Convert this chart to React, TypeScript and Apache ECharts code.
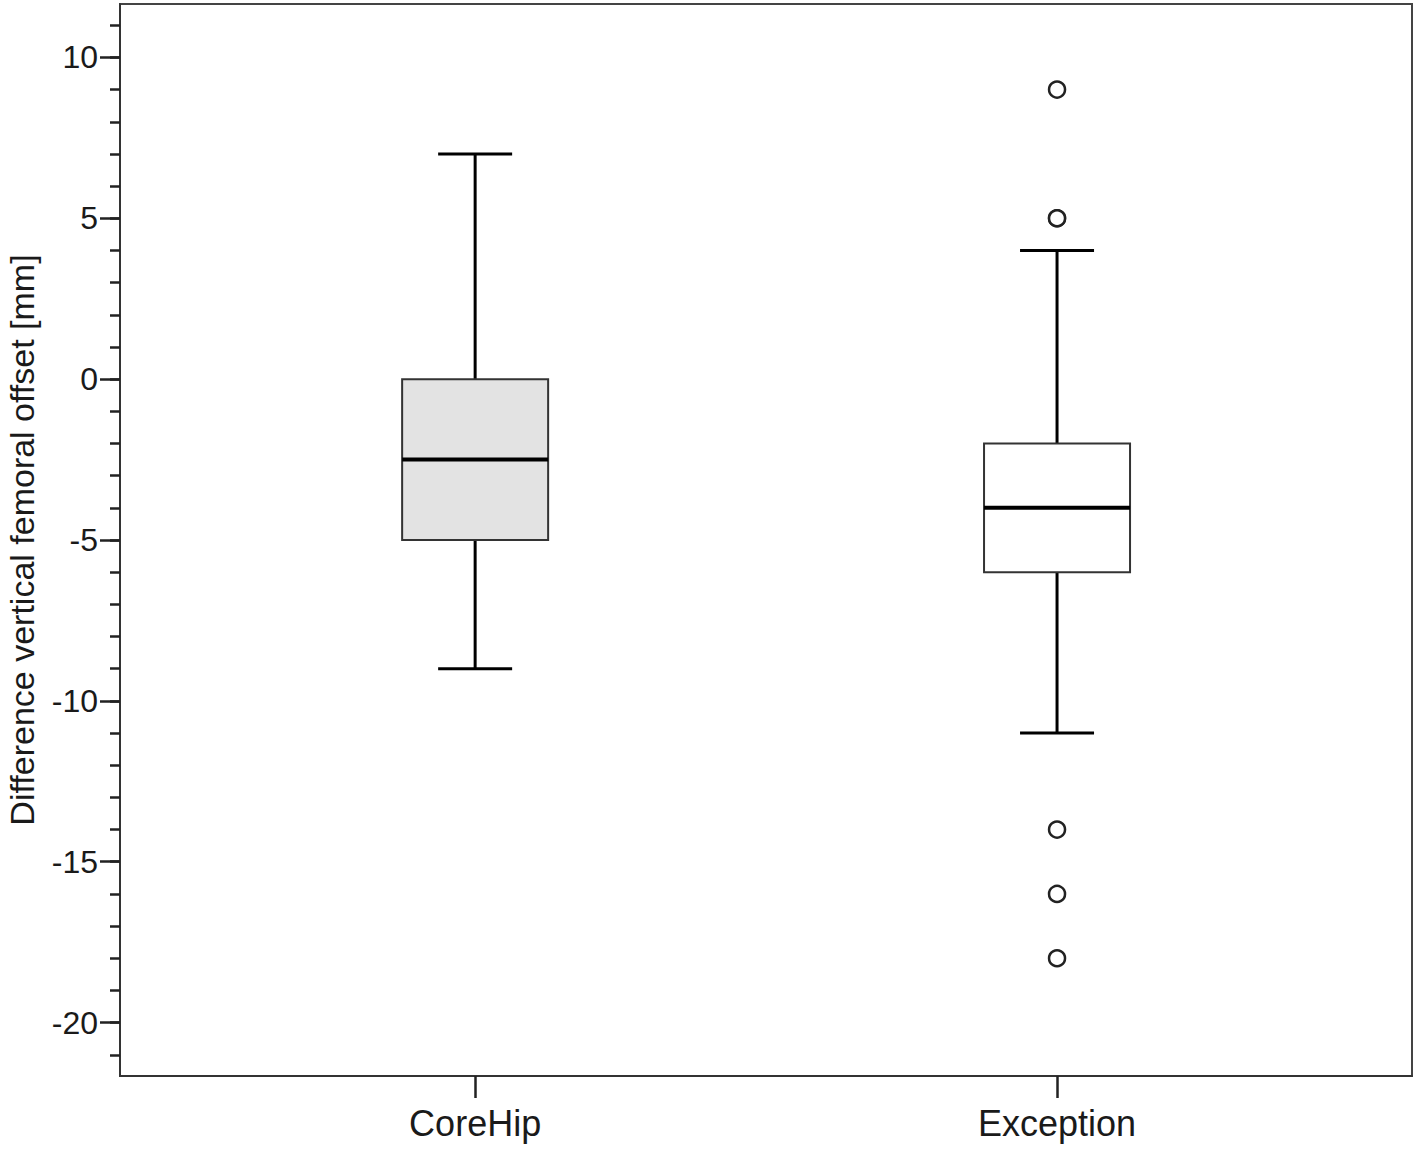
import React, { useEffect, useRef } from "react";
import * as echarts from "echarts";

const categories = ["CoreHip", "Exception"];
const categoryPositions = [1, 2];
const whiskerLow = [-9, -11];
const quartile1 = [-5, -6];
const medians = [-2.5, -4];
const quartile3 = [0, -2];
const whiskerHigh = [7, 4];
const exceptionOutliers = [9, 5, 5, -14, -16, -18];
const majorTicks = [-20, -15, -10, -5, 0, 5, 10];
const minorTicks = [-21, -20, -19, -18, -17, -16, -15, -14, -13, -12, -11, -10, -9, -8, -7, -6, -5, -4, -3, -2, -1, 0, 1, 2, 3, 4, 5, 6, 7, 8, 9, 10, 11];

const boxFills = ["#e3e3e3", "#ffffff"];
const FONT = "'Liberation Sans', Arial, sans-serif";

export default function App() {
  const ref = useRef<HTMLDivElement>(null);
  useEffect(() => {
    if (!ref.current) return;
    const chart = echarts.init(ref.current, null, { renderer: "svg" });
    const boxData = categories.map((_, i) => [
      categoryPositions[i],
      whiskerLow[i],
      quartile1[i],
      medians[i],
      quartile3[i],
      whiskerHigh[i],
      i,
    ]);
    const outlierData = exceptionOutliers.map((v) => [categoryPositions[1], v]);
    const halfBox = 73;
    const halfCap = 37;
    chart.setOption({
      animation: false,
      backgroundColor: "#ffffff",
      grid: {
        show: true,
        left: 120,
        right: 4,
        top: 4,
        bottom: 74,
        outerBoundsMode: "none",
        containLabel: false,
        borderColor: "#444",
        borderWidth: 2,
        backgroundColor: "#ffffff",
      },
      xAxis: {
        type: "value",
        min: 0.3897,
        max: 2.61,
        splitLine: { show: false },
        axisLine: { show: true, onZero: false, lineStyle: { color: "#333", width: 2 } },
        axisTick: {
          show: true,
          customValues: categoryPositions,
          length: 22,
          lineStyle: { color: "#222", width: 2.5 },
        },
        axisLabel: {
          customValues: categoryPositions,
          formatter: (v: number) => categories[categoryPositions.indexOf(v)] ?? "",
          fontSize: 36,
          fontFamily: FONT,
          color: "#1a1a1a",
          margin: 29,
        },
      },
      yAxis: [
        {
          type: "value",
          position: "left",
          min: -21.66,
          max: 11.66,
          name: "Difference vertical femoral offset [mm]",
          nameLocation: "middle",
          nameGap: 81,
          nameTextStyle: { fontSize: 34, lineHeight: 34, fontFamily: FONT, color: "#1a1a1a" },
          splitLine: { show: false },
          axisLine: { show: true, onZero: false, lineStyle: { color: "#333", width: 2 } },
          axisTick: {
            show: true,
            customValues: majorTicks,
            length: 20,
            lineStyle: { color: "#222", width: 2.5 },
          },
          axisLabel: {
            customValues: majorTicks,
            fontSize: 32,
            fontFamily: FONT,
            color: "#1a1a1a",
            margin: 22,
          },
        },
        {
          type: "value",
          position: "left",
          offset: 0,
          min: -21.66,
          max: 11.66,
          splitLine: { show: false },
          axisLine: { show: false, onZero: false },
          axisTick: {
            show: true,
            customValues: minorTicks,
            length: 10,
            lineStyle: { color: "#222", width: 2.5 },
          },
          axisLabel: { show: false },
        },
      ],
      series: [
        {
          type: "custom",
          yAxisIndex: 0,
          data: boxData,
          renderItem: (params: any, api: any) => {
            const x = api.value(0);
            const idx = api.value(6);
            const [cx, yLow] = api.coord([x, api.value(1)]);
            const yQ1 = api.coord([x, api.value(2)])[1];
            const yMed = api.coord([x, api.value(3)])[1];
            const yQ3 = api.coord([x, api.value(4)])[1];
            const yHigh = api.coord([x, api.value(5)])[1];
            const whisk = { stroke: "#000", lineWidth: 3 };
            return {
              type: "group",
              children: [
                { type: "line", shape: { x1: cx, y1: yHigh, x2: cx, y2: yQ3 }, style: whisk },
                { type: "line", shape: { x1: cx, y1: yQ1, x2: cx, y2: yLow }, style: whisk },
                { type: "line", shape: { x1: cx - halfCap, y1: yHigh, x2: cx + halfCap, y2: yHigh }, style: whisk },
                { type: "line", shape: { x1: cx - halfCap, y1: yLow, x2: cx + halfCap, y2: yLow }, style: whisk },
                {
                  type: "rect",
                  shape: { x: cx - halfBox, y: yQ3, width: 2 * halfBox, height: yQ1 - yQ3 },
                  style: { fill: boxFills[idx], stroke: "#333", lineWidth: 2 },
                },
                {
                  type: "line",
                  shape: { x1: cx - halfBox, y1: yMed, x2: cx + halfBox, y2: yMed },
                  style: { stroke: "#000", lineWidth: 4 },
                },
              ],
            };
          },
        },
        {
          type: "scatter",
          yAxisIndex: 0,
          data: outlierData,
          symbol: "circle",
          symbolSize: 16,
          itemStyle: { color: "#ffffff", borderColor: "#222", borderWidth: 2.5, opacity: 1 },
        },
      ],
    });
    return () => chart.dispose();
  }, []);
  return (
    <div
      ref={ref}
      style={{ position: "fixed", left: 0, top: 0, width: 1416, height: 1150, background: "#fff" }}
    />
  );
}
